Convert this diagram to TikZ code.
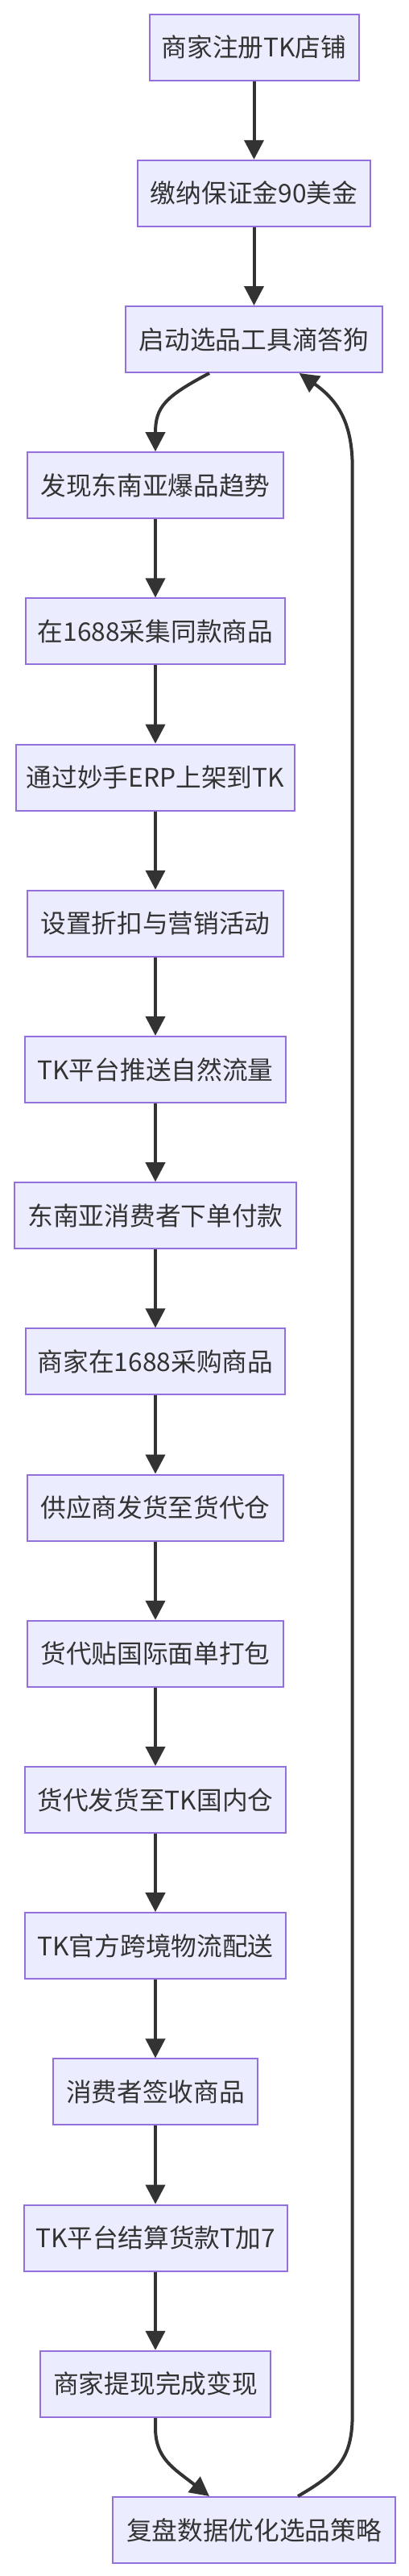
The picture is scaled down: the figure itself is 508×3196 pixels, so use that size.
\documentclass[tikz,border=0pt]{standalone}
\usepackage{fontspec}
\setmainfont{Noto Sans CJK SC}
\usetikzlibrary{arrows.meta}
\definecolor{nodefill}{HTML}{ECECFF}
\definecolor{nodeborder}{HTML}{9370DB}
\definecolor{edgecol}{HTML}{333333}
\definecolor{txtcol}{HTML}{333333}
\tikzset{
  box/.style={draw=nodeborder, fill=nodefill, line width=2pt, minimum height=82pt,
    inner sep=0pt, text=txtcol, font=\fontsize{31.7pt}{38pt}\selectfont},
  edge/.style={draw=edgecol, line width=4pt, -{Triangle[length=24pt,width=24pt]}},
}
\begin{document}
\begin{tikzpicture}[x=1pt,y=-1pt]
\fill[white] (0,0) rectangle (508,3196);
\useasboundingbox (0,0) rectangle (508,3196);
\node[box, minimum width=260pt]   (n1)  at (315.5,58.6)   {商家注册TK店铺};
\node[box, minimum width=288.7pt] (n2)  at (315.5,239.8)  {缴纳保证金90美金};
\node[box, minimum width=318.7pt] (n3)  at (315.5,421.0)  {启动选品工具滴答狗};
\node[box, minimum width=318.3pt] (n4)  at (193,602.2)    {发现东南亚爆品趋势};
\node[box, minimum width=322pt]   (n5)  at (193,783.4)    {在1688采集同款商品};
\node[box, minimum width=345.3pt] (n6)  at (193,964.6)    {通过妙手ERP上架到TK};
\node[box, minimum width=318.3pt] (n7)  at (193,1145.8)   {设置折扣与营销活动};
\node[box, minimum width=324pt]   (n8)  at (193,1327.0)   {TK平台推送自然流量};
\node[box, minimum width=350.7pt] (n9)  at (193,1508.2)   {东南亚消费者下单付款};
\node[box, minimum width=322pt]   (n10) at (193,1689.4)   {商家在1688采购商品};
\node[box, minimum width=318.7pt] (n11) at (193,1870.6)   {供应商发货至货代仓};
\node[box, minimum width=318.7pt] (n12) at (193,2051.8)   {货代贴国际面单打包};
\node[box, minimum width=324pt]   (n13) at (193,2233.0)   {货代发货至TK国内仓};
\node[box, minimum width=324pt]   (n14) at (193,2414.2)   {TK官方跨境物流配送};
\node[box, minimum width=254.7pt] (n15) at (193,2595.4)   {消费者签收商品};
\node[box, minimum width=327pt]   (n16) at (193,2776.6)   {TK平台结算货款T加7};
\node[box, minimum width=286.7pt] (n17) at (193,2957.8)   {商家提现完成变现};
\node[box, minimum width=350.7pt] (n18) at (315.5,3139.0) {复盘数据优化选品策略};

\draw[edge] (n1) -- (n2);
\draw[edge] (n2) -- (n3);
\draw[edge] ([xshift=-55.5pt]n3.south) .. controls (205,492) and (193,505) .. (193,537) -- (n4.north);
\draw[edge] (n4) -- (n5);
\draw[edge] (n5) -- (n6);
\draw[edge] (n6) -- (n7);
\draw[edge] (n7) -- (n8);
\draw[edge] (n8) -- (n9);
\draw[edge] (n9) -- (n10);
\draw[edge] (n10) -- (n11);
\draw[edge] (n11) -- (n12);
\draw[edge] (n12) -- (n13);
\draw[edge] (n13) -- (n14);
\draw[edge] (n14) -- (n15);
\draw[edge] (n15) -- (n16);
\draw[edge] (n16) -- (n17);
\draw[edge] (n17.south) -- (193,3012) .. controls (193,3050) and (215,3062) .. ([xshift=-55.5pt]n18.north);
\draw[edge] ([xshift=54.5pt]n18.north) .. controls (420,3068) and (437.7,3050) .. (437.7,2995)
  -- (437.7,580) .. controls (437.7,525) and (420,497) .. ([xshift=56.2pt]n3.south);
\end{tikzpicture}
\end{document}
